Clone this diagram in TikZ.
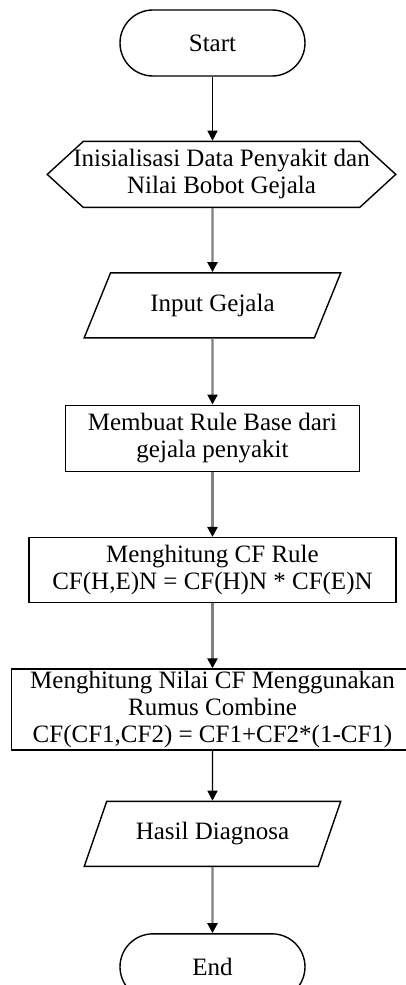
\documentclass[tikz,border=0pt]{standalone}
\usepackage{fontspec}
\setmainfont{Liberation Serif}
\usetikzlibrary{arrows.meta,positioning,shapes.geometric,shapes.symbols}

\begin{document}
\begin{tikzpicture}[x=1pt,y=1pt,>={Triangle[width=10pt,length=10pt,color=black]},
  font=\fontsize{25}{27}\selectfont,
  term/.style={draw,line width=1.4pt,rounded corners=33pt,minimum width=185pt,minimum height=66pt},
  hexa/.style={draw,line width=1.4pt,signal,signal to=west and east,signal pointer angle=85,minimum height=66pt,align=center,inner xsep=-10pt,inner ysep=1pt},
  io/.style={draw,line width=1.4pt,trapezium,trapezium left angle=60,trapezium right angle=120,trapezium stretches=true,minimum width=257pt,minimum height=65pt},
  block/.style={draw,line width=1.4pt,minimum height=66pt,align=center,inner sep=1pt},
  flow/.style={line width=2.4pt,draw=black!50},
  flowdark/.style={line width=1.4pt,draw=black}]
  \useasboundingbox (-212.5,43) rectangle (193.5,-942);
  \node[term] (start) at (0,0) {Start};
  \node[hexa,below=64pt of start,xshift=9pt] (init) {Inisialisasi Data Penyakit dan\\Nilai Bobot Gejala};
  \node[io,below=64pt of init,xshift=-9pt] (input) {Input Gejala};
  \node[block,below=66pt of input,minimum width=294pt] (rule) {Membuat Rule Base dari\\gejala penyakit};
  \node[block,below=65pt of rule,minimum width=367pt,minimum height=65pt] (cfrule) {Menghitung CF Rule\\CF(H,E)N = CF(H)N * CF(E)N};
  \node[block,below=65pt of cfrule,minimum width=402pt,minimum height=81pt] (combine) {Menghitung Nilai CF Menggunakan\\Rumus Combine\\CF(CF1,CF2) = CF1+CF2*(1-CF1)};
  \node[io,below=50pt of combine] (hasil) {Hasil Diagnosa};
  \node[term,below=66pt of hasil] (end) {End};
  \draw[->,flowdark] (start) -- (start |- init.north);
  \draw[->,flow] (input |- init.south) -- (input);
  \draw[->,flow] (input) -- (rule);
  \draw[->,flow] (rule) -- (cfrule);
  \draw[->,flow] (cfrule) -- (combine);
  \draw[->,flowdark] (combine) -- (hasil);
  \draw[->,flow] (hasil) -- (end);
\end{tikzpicture}
\end{document}
